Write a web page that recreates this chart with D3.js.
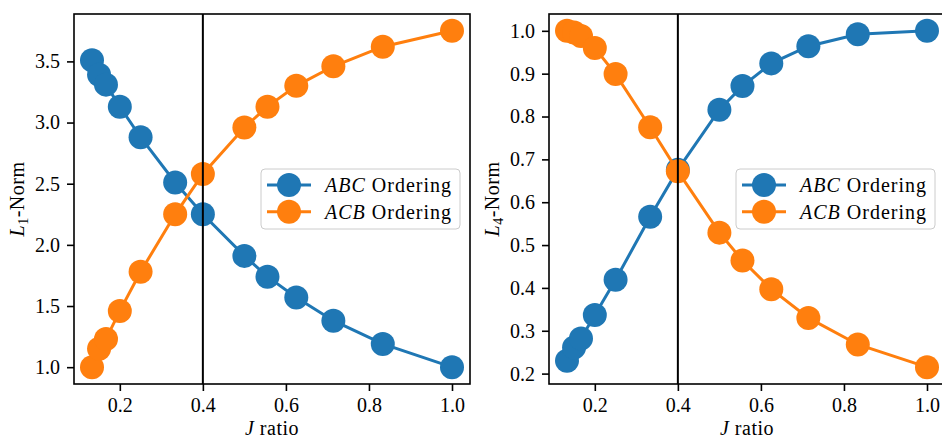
<!DOCTYPE html>
<html>
<head>
<meta charset="utf-8">
<script src="https://cdn.jsdelivr.net/npm/d3@7"></script>
<style>
body { margin: 0; background: #fff; }
</style>
</head>
<body>
<div id="chart"></div>
<script>
// data
const jRatio = [0.133, 0.15, 0.1667, 0.2, 0.25, 0.3333, 0.4, 0.5, 0.5556, 0.625, 0.7143, 0.8333, 1.0];
const l1ABC = [3.51, 3.39, 3.31, 3.13, 2.88, 2.51, 2.25, 1.91, 1.74, 1.57, 1.38, 1.19, 1.00];
const l1ACB = [1.00, 1.15, 1.23, 1.46, 1.78, 2.25, 2.58, 2.96, 3.13, 3.30, 3.46, 3.62, 3.75];
const l4ABC = [0.230, 0.261, 0.282, 0.337, 0.419, 0.566, 0.676, 0.816, 0.871, 0.924, 0.964, 0.992, 1.000];
const l4ACB = [1.000, 0.996, 0.988, 0.960, 0.899, 0.775, 0.672, 0.529, 0.464, 0.397, 0.330, 0.268, 0.215];
const xTicks = [0.2, 0.4, 0.6, 0.8, 1.0];
const l1Ticks = [1.0, 1.5, 2.0, 2.5, 3.0, 3.5];
const l4Ticks = [0.2, 0.3, 0.4, 0.5, 0.6, 0.7, 0.8, 0.9, 1.0];
const markerLine = 0.4;
const seriesNames = ['ABC', 'ACB'];

const width = 942;
const height = 440;
const plotTop = 14;
const plotBottom = 384;
const colors = ['#1f77b4', '#ff7f0e'];
const fmt = d3.format('.1f');
const serif = "'Liberation Serif', 'Times New Roman', serif";
const fontSize = 20;

const panels = [
    {left: 74, right: 470, sub: '1', series: [l1ABC, l1ACB], yTicks: l1Ticks, labelX: 24},
    {left: 549, right: 945, sub: '4', series: [l4ABC, l4ACB], yTicks: l4Ticks, labelX: 499}
];

// matplotlib-like 5% margins
function padded(values) {
    const [a, b] = d3.extent(values);
    const m = (b - a) * 0.05;
    return [a - m, b + m];
}

const svg = d3.select('#chart')
    .append('svg')
    .attr('width', width)
    .attr('height', height)
    .attr('font-family', serif)
    .attr('font-size', fontSize);

svg.append('rect').attr('width', width).attr('height', height).attr('fill', '#fff');

function drawPanel(p) {
    const x = d3.scaleLinear().domain(padded(jRatio)).range([p.left, p.right]);
    const y = d3.scaleLinear().domain(padded(p.series.flat())).range([plotBottom, plotTop]);
    const g = svg.append('g');

    p.series.forEach((vals, i) => {
        const pts = jRatio.map((j, k) => [j, vals[k]]);
        g.append('path')
            .datum(pts)
            .attr('fill', 'none')
            .attr('stroke', colors[i])
            .attr('stroke-width', 3)
            .attr('d', d3.line().x(d => x(d[0])).y(d => y(d[1])));
        g.append('g')
            .selectAll('circle')
            .data(pts)
            .enter()
            .append('circle')
            .attr('cx', d => x(d[0]))
            .attr('cy', d => y(d[1]))
            .attr('r', 12)
            .attr('fill', colors[i]);
    });

    g.append('line')
        .attr('x1', x(markerLine)).attr('x2', x(markerLine))
        .attr('y1', plotTop).attr('y2', plotBottom)
        .attr('stroke', '#000')
        .attr('stroke-width', 2);

    const xAxis = g.append('g')
        .attr('transform', `translate(0,${plotBottom})`)
        .call(d3.axisBottom(x).tickValues(xTicks).tickFormat(fmt).tickSize(7).tickPadding(7));
    const yAxis = g.append('g')
        .attr('transform', `translate(${p.left},0)`)
        .call(d3.axisLeft(y).tickValues(p.yTicks).tickFormat(fmt).tickSize(7).tickPadding(7));
    [xAxis, yAxis].forEach(a => {
        a.attr('font-family', serif).attr('font-size', fontSize);
        a.select('.domain').remove();
        a.selectAll('line').attr('stroke', '#000').attr('stroke-width', 1.6);
        a.selectAll('text').attr('fill', '#000');
    });

    g.append('rect')
        .attr('x', p.left).attr('y', plotTop)
        .attr('width', p.right - p.left).attr('height', plotBottom - plotTop)
        .attr('fill', 'none')
        .attr('stroke', '#000')
        .attr('stroke-width', 1.6);

    // axis labels
    const xl = g.append('text')
        .attr('x', (p.left + p.right) / 2)
        .attr('y', 435)
        .attr('text-anchor', 'middle')
        .attr('letter-spacing', 0.5);
    xl.append('tspan').attr('font-style', 'italic').text('J');
    xl.append('tspan').text(' ratio');

    const yl = g.append('text')
        .attr('transform', `translate(${p.labelX},${(plotTop + plotBottom) / 2}) rotate(-90)`)
        .attr('text-anchor', 'middle')
        .attr('letter-spacing', 0.5);
    yl.append('tspan').attr('font-style', 'italic').text('L');
    yl.append('tspan').attr('font-size', 14).attr('dy', 4).text(p.sub);
    yl.append('tspan').attr('dy', -4).text('-Norm');

    // legend
    const lx = p.right - 10 - 199;
    const ly = (plotTop + plotBottom) / 2 - 30;
    const lg = g.append('g').attr('transform', `translate(${lx},${ly})`);
    lg.append('rect')
        .attr('width', 199).attr('height', 60)
        .attr('rx', 4)
        .attr('fill', '#fff').attr('fill-opacity', 0.8)
        .attr('stroke', '#ccc').attr('stroke-width', 1);
    seriesNames.forEach((name, i) => {
        const ry = 16 + i * 26.7;
        lg.append('line')
            .attr('x1', 6).attr('x2', 50).attr('y1', ry).attr('y2', ry)
            .attr('stroke', colors[i]).attr('stroke-width', 3);
        lg.append('circle').attr('cx', 28).attr('cy', ry).attr('r', 12).attr('fill', colors[i]);
        const t = lg.append('text')
            .attr('x', 64).attr('y', ry).attr('dy', '0.35em')
            .attr('letter-spacing', 1);
        t.append('tspan').attr('font-style', 'italic').text(name);
        t.append('tspan').text(' Ordering');
    });
}

panels.forEach(drawPanel);
</script>
</body>
</html>
